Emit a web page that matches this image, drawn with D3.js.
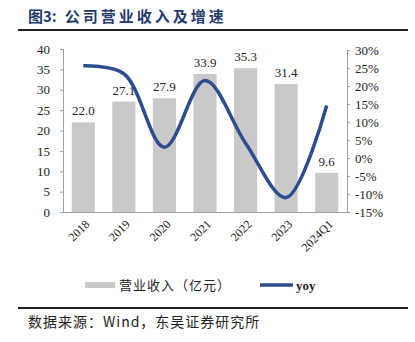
<!DOCTYPE html>
<html><head><meta charset="utf-8">
<script src="https://cdn.jsdelivr.net/npm/d3@7"></script>
<style>body{margin:0;background:#fff;}svg{display:block;}</style>
</head><body>
<script>
const categories = ["2018","2019","2020","2021","2022","2023","2024Q1"];
const revenue = [22.0, 27.1, 27.9, 33.9, 35.3, 31.4, 9.6];
const yoy = [25.6, 23.4, 3.0, 21.5, 4.1, -11.0, 14.6];
const leftTicks = [0,5,10,15,20,25,30,35,40];
const rightTicks = [-15,-10,-5,0,5,10,15,20,25,30];

const W = 415, H = 342;
const svg = d3.select("body").append("svg").attr("width", W).attr("height", H);
const serif = "'Liberation Serif','DejaVu Serif',serif";
const cjk = "'Noto Sans CJK SC','Noto Sans',sans-serif";

// title
const title = svg.append("text").attr("x", 28).attr("y", 22).attr("font-family", cjk).attr("font-weight", "bold")
  .attr("font-size", 15).attr("fill", "#1f3a6e");
title.append("tspan").text("图3:");
title.append("tspan").attr("dx", 8).attr("letter-spacing", 3).text("公司营业收入及增速");
svg.append("line").attr("x1", 18).attr("x2", 408).attr("y1", 30).attr("y2", 30)
  .attr("stroke", "#222").attr("stroke-width", 2);

const x = d3.scaleBand().domain(categories).range([63, 347]).paddingInner(0.43).paddingOuter(0.215);
const yL = d3.scaleLinear().domain([0, 40]).range([212, 49]);
const yR = d3.scaleLinear().domain([-15, 30]).range([212, 50]);

// bars
svg.selectAll("rect.bar").data(revenue).join("rect").attr("class", "bar")
  .attr("x", (d, i) => x(categories[i])).attr("width", x.bandwidth())
  .attr("y", d => yL(d)).attr("height", d => yL(0) - yL(d)).attr("fill", "#c9c9c9");

// axes
const axL = svg.append("g").attr("transform", "translate(63,0)")
  .call(d3.axisLeft(yL).tickValues(leftTicks).tickSize(3).tickPadding(10));
const axR = svg.append("g").attr("transform", "translate(347,0)")
  .call(d3.axisRight(yR).tickValues(rightTicks).tickSize(3).tickPadding(5).tickFormat(d => d + "%"));
const axB = svg.append("g").attr("transform", "translate(0,212)")
  .call(d3.axisBottom(x).tickSize(0).tickFormat(""));
[axL, axR, axB].forEach(g => {
  g.selectAll("path.domain").attr("stroke", "#a0a0a0");
  g.selectAll(".tick line").attr("stroke", "#a0a0a0");
  g.selectAll("text").attr("font-family", serif).attr("font-size", 13).attr("fill", "#222");
});

// x labels
svg.selectAll("text.xl").data(categories).join("text").attr("class", "xl")
  .attr("transform", d => `translate(${x(d) + x.bandwidth() / 2 + 4},222) rotate(-45)`)
  .attr("text-anchor", "end").attr("dy", "0.35em")
  .attr("font-family", serif).attr("font-size", 12).attr("fill", "#222").text(d => d);

// bar labels
svg.selectAll("text.bl").data(revenue).join("text").attr("class", "bl")
  .attr("x", (d, i) => x(categories[i]) + x.bandwidth() / 2).attr("y", d => yL(d) - 7)
  .attr("text-anchor", "middle").attr("font-family", serif).attr("font-size", 13).attr("fill", "#222")
  .text(d => d.toFixed(1));

// yoy line
const line = d3.line().x((d, i) => x(categories[i]) + x.bandwidth() / 2).y(d => yR(d))
  .curve(d3.curveCatmullRom.alpha(0.5));
svg.append("path").datum(yoy).attr("d", line).attr("fill", "none")
  .attr("stroke", "#2b4d8f").attr("stroke-width", 3.5);

// legend
svg.append("rect").attr("x", 85).attr("y", 282).attr("width", 30).attr("height", 6).attr("fill", "#c9c9c9");
svg.append("text").attr("x", 119).attr("y", 285).attr("dy", "0.35em").attr("font-family", cjk)
  .attr("font-size", 13).attr("letter-spacing", 1).attr("fill", "#222").text("营业收入（亿元）");
svg.append("line").attr("x1", 260).attr("x2", 293).attr("y1", 285).attr("y2", 285)
  .attr("stroke", "#2b4d8f").attr("stroke-width", 3.5);
svg.append("text").attr("x", 296).attr("y", 285).attr("dy", "0.35em").attr("font-family", serif)
  .attr("font-weight", "bold").attr("font-size", 13).attr("fill", "#222").text("yoy");

svg.append("line").attr("x1", 18).attr("x2", 408).attr("y1", 308).attr("y2", 308)
  .attr("stroke", "#222").attr("stroke-width", 2);
svg.append("text").attr("x", 28).attr("y", 327).attr("font-family", cjk)
  .attr("font-size", 14).attr("letter-spacing", 1).attr("fill", "#222").text("数据来源：Wind，东吴证券研究所");
</script>
</body></html>
